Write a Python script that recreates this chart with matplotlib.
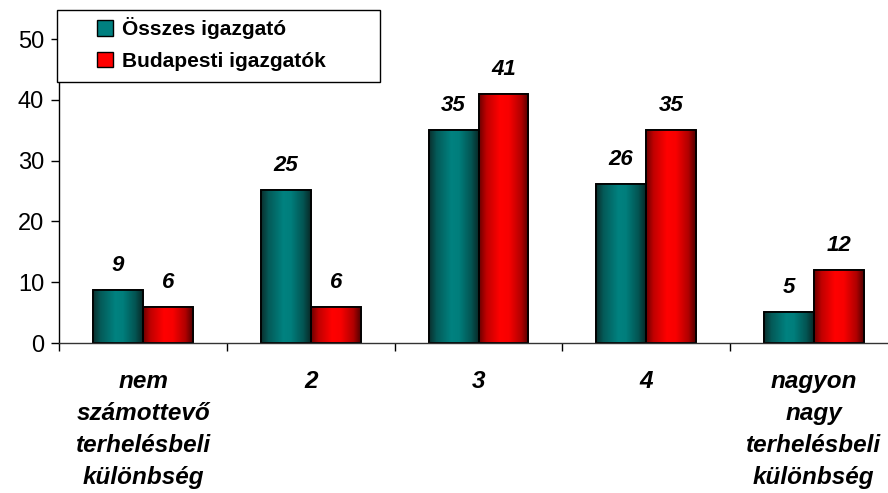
import matplotlib
matplotlib.use("Agg")
import matplotlib.pyplot as plt
import numpy as np
from matplotlib.colors import LinearSegmentedColormap
from matplotlib.patches import Patch, Rectangle

categories = ["nem\nszámottevő\nterhelésbeli\nkülönbség", "2", "3", "4",
              "nagyon\nnagy\nterhelésbeli\nkülönbség"]
osszes = [8.7, 25.2, 35.1, 26.2, 5.1]
osszes_labels = ["9", "25", "35", "26", "5"]
budapest = [6.0, 6.0, 41.0, 35.1, 12.0]
budapest_labels = ["6", "6", "41", "35", "12"]
series_names = ["Összes igazgató", "Budapesti igazgatók"]
yticks = [0, 10, 20, 30, 40, 50]

W, H = 888, 493
fig = plt.figure(figsize=(W / 100, H / 100), dpi=100)
ax_left, ax_right = 59.3, 897.7
ax_top, ax_bottom = 39, 343
ax = fig.add_axes([ax_left / W, (H - ax_bottom) / H, (ax_right - ax_left) / W, (ax_bottom - ax_top) / H])

font = "Liberation Sans"
x = np.arange(len(categories))
bw = 0.298

teal_cmap = LinearSegmentedColormap.from_list(
    "teal", [(0, "#0a2e2c"), (0.15, "#045a58"), (0.45, "#008280"), (0.6, "#007e7c"),
             (0.85, "#035452"), (1, "#082826")])
red_cmap = LinearSegmentedColormap.from_list(
    "red", [(0, "#6a0000"), (0.15, "#c00000"), (0.42, "#ff0000"), (0.6, "#f80000"),
            (0.85, "#b00000"), (1, "#500000")])
grad = np.linspace(0, 1, 256).reshape(1, -1)

b1 = ax.bar(x - bw / 2, osszes, width=bw, color="#008080", edgecolor="black", linewidth=1.2, zorder=2)
b2 = ax.bar(x + bw / 2, budapest, width=bw, color="#ff0000", edgecolor="black", linewidth=1.2, zorder=2)

for bars, cmap in ((b1, teal_cmap), (b2, red_cmap)):
    for p in bars:
        x0, y0 = p.get_x(), p.get_y()
        im = ax.imshow(grad, cmap=cmap, aspect="auto",
                       extent=(x0, x0 + p.get_width(), y0, y0 + p.get_height()),
                       zorder=2.1, interpolation="bilinear")
        im.set_clip_path(p)
        ax.add_patch(Rectangle((x0, y0), p.get_width(), p.get_height(), fill=False,
                               edgecolor="black", linewidth=1.3, zorder=2.2))

for bars, labels in ((b1, osszes_labels), (b2, budapest_labels)):
    for p, lab in zip(bars, labels):
        ax.annotate(lab, (p.get_x() + p.get_width() / 2, p.get_height()),
                    xytext=(0, 10), textcoords="offset points", ha="center", va="bottom",
                    fontsize=16, fontweight="bold", fontstyle="italic", family=font)

ax.set_xlim(-0.5, len(categories) - 0.5)
ax.set_ylim(0, 50)
ax.set_yticks(yticks)
ax.set_yticklabels([str(v) for v in yticks], fontsize=17, family=font)
ax.set_xticks(np.arange(len(categories) + 1) - 0.5)
ax.set_xticklabels([])
ax.tick_params(axis="both", direction="out", length=6, width=1, color="black")
ax.tick_params(axis="y", pad=5)
for c, lab in zip(x, categories):
    ax.text(c, -4.4, lab, ha="center", va="top", fontsize=17.5, fontweight="bold",
            fontstyle="italic", family=font, linespacing=1.5)

ax.spines["top"].set_visible(False)
ax.spines["right"].set_visible(False)
ax.spines["left"].set_linewidth(1)
ax.spines["bottom"].set_linewidth(1)
ax.spines["bottom"].set_color("#333333")

# legend frame
fig.patches.append(Rectangle((57 / W, 1 - 82 / H), (380 - 57) / W, (82 - 10) / H,
                             transform=fig.transFigure, facecolor="white",
                             edgecolor="black", linewidth=1, zorder=5))
handles = [Patch(facecolor="#008080", edgecolor="black", label=series_names[0]),
           Patch(facecolor="#ff0000", edgecolor="black", label=series_names[1])]
leg = fig.legend(handles=handles, loc="upper left", bbox_to_anchor=(93 / W, 1 - 13 / H),
                 prop={"family": font, "weight": "bold", "size": 15},
                 frameon=False, handlelength=0.75, handleheight=0.75, handletextpad=0.45,
                 borderpad=0.2, labelspacing=0.6, borderaxespad=0)
leg.set_zorder(6)

fig.savefig("out.png", dpi=100)
